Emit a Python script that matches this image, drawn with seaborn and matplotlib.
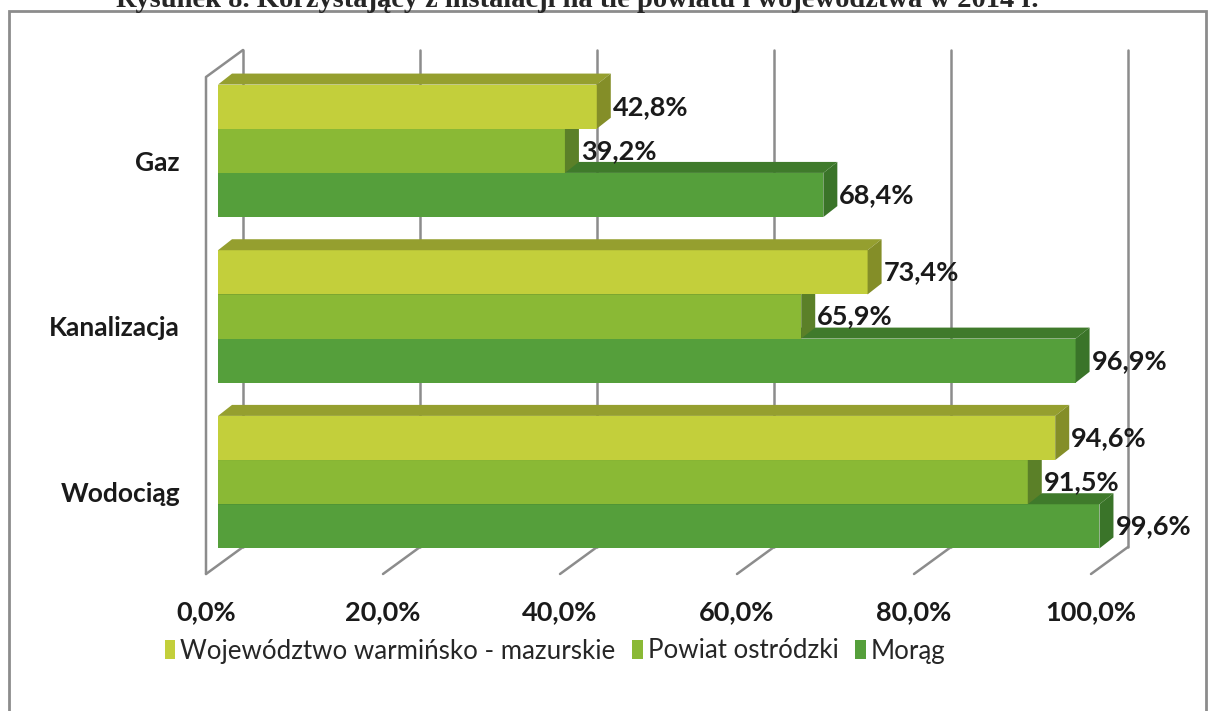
import numpy as np
import pandas as pd
import matplotlib
matplotlib.use('Agg')
import matplotlib.pyplot as plt
import matplotlib.transforms as mtransforms
from matplotlib.patches import Polygon, Rectangle
from matplotlib.lines import Line2D
import seaborn as sns

# dane z wykresu
kategorie = ['Gaz', 'Kanalizacja', 'Wodociąg']
serie = ['Województwo warmińsko - mazurskie', 'Powiat ostródzki', 'Morąg']
wojewodztwo = [42.8, 73.4, 94.6]
powiat = [39.2, 65.9, 91.5]
morag = [68.4, 96.9, 99.6]
osie_x = [0, 20, 40, 60, 80, 100]
etykiety_x = ['0,0%', '20,0%', '40,0%', '60,0%', '80,0%', '100,0%']
tytul = 'Rysunek 8. Korzystający z instalacji na tle powiatu i województwa w 2014 r.'

kolory_przod = ['#C3CF3B', '#8AB935', '#559F3B']
kolory_gora = ['#959F2F', '#6A8F29', '#3F7A2B']
kolory_bok = ['#848E28', '#5B8028', '#3A7429']

df = pd.DataFrame({'kategoria': kategorie * 3,
                   'seria': np.repeat(serie, 3),
                   'wartosc': wojewodztwo + powiat + morag})

sns.set_style('white')
plt.rcParams['font.family'] = ['Lato', 'DejaVu Sans']

W, H = 1213, 711
fig = plt.figure(figsize=(W / 100, H / 100), dpi=100)
ax = fig.add_axes([218 / W, 1 - 565 / H, 885 / W, 497 / H])
sns.barplot(data=df, y='kategoria', x='wartosc', hue='seria', order=kategorie,
            hue_order=serie, palette=kolory_przod, saturation=1, width=0.8,
            orient='h', legend=False, ax=ax)
ax.set_xlim(0, 100)
ax.set_ylim(2.5, -0.5)
ax.set_xticks([])
ax.set_yticks([])
ax.set_xlabel('')
ax.set_ylabel('')
sns.despine(ax=ax, left=True, bottom=True)
ax.patch.set_alpha(0)

ident = mtransforms.IdentityTransform()


def px(x, y, dx=0, dy=0):
    p = ax.transData.transform((x, y))
    return (p[0] + dx, p[1] + dy)


# sciany 3D
szary = '#8C8C8C'
for v in osie_x:
    a, b = px(v, 2.5, 25, 18), px(v, -0.5, 25, 18)
    ax.add_line(Line2D([a[0], b[0]], [a[1], b[1]], color=szary, lw=1.8, transform=ident, zorder=0.5, clip_on=False))
    c = px(v, 2.5, -12, -9)
    ax.add_line(Line2D([c[0], a[0]], [c[1], a[1]], color=szary, lw=1.8, transform=ident, zorder=0.5, clip_on=False))
p1, p2, p3 = px(0, 2.5, -12, -9), px(0, -0.5, -12, -9), px(0, -0.5, 25, 18)
ax.add_line(Line2D([p1[0], p2[0], p3[0]], [p1[1], p2[1], p3[1]], color=szary, lw=1.8,
                   transform=ident, zorder=0.5, clip_on=False))

# slupki 3D
d = (14, 11)
for i, cont in enumerate(ax.containers):
    z = 10 - 3 * i
    for bar in cont:
        x0, y0, w, h = bar.get_x(), bar.get_y(), bar.get_width(), bar.get_height()
        bar.set_zorder(z)
        bar.set_linewidth(0)
        tl, tr, br = px(x0, y0), px(x0 + w, y0), px(x0 + w, y0 + h)
        gora = [tl, tr, (tr[0] + d[0], tr[1] + d[1]), (tl[0] + d[0], tl[1] + d[1])]
        bok = [tr, br, (br[0] + d[0], br[1] + d[1]), (tr[0] + d[0], tr[1] + d[1])]
        ax.add_patch(Polygon(gora, closed=True, fc=kolory_gora[i], ec='none', transform=ident, zorder=z, clip_on=False))
        ax.add_patch(Polygon(bok, closed=True, fc=kolory_bok[i], ec='none', transform=ident, zorder=z, clip_on=False))
        ax.annotate(f'{w:.1f}'.replace('.', ',') + '%', xy=(x0 + w, y0 + h / 2), xytext=(16, 0),
                    textcoords='offset pixels', ha='left', va='center', fontsize=19.5,
                    fontweight='bold', color='#1a1a1a', zorder=20, annotation_clip=False)

# etykiety osi
off_x = mtransforms.ScaledTranslation(-12 / 100, -47 / 100, fig.dpi_scale_trans)
for v, t in zip(osie_x, etykiety_x):
    ax.text(v, 0, t, transform=ax.get_xaxis_transform() + off_x, ha='center', va='center',
            fontsize=19.5, fontweight='bold', color='#1a1a1a')
off_y = mtransforms.ScaledTranslation(-38 / 100, -12 / 100, fig.dpi_scale_trans)
for k, t in enumerate(kategorie):
    ax.text(0, k, t, transform=ax.get_yaxis_transform() + off_y, ha='right', va='center',
            fontsize=19, fontweight='bold', color='#1a1a1a')

# legenda
uchwyty = [Rectangle((0, 0), 1, 1, fc=c, ec='none') for c in kolory_przod]
fig.legend(uchwyty, serie, loc='center', bbox_to_anchor=(555 / W, 1 - 651 / H), ncol=3,
           frameon=False, fontsize=18.6, handlelength=0.4, handleheight=0.7,
           handletextpad=0.2, columnspacing=0.65)

# tytul i ramka
fig.text(577 / W, 1 - 7 / H, tytul, ha='center', va='baseline', fontsize=20.5,
         fontweight='bold', family='Liberation Serif')
fig.patches.append(Rectangle((9 / W, -0.1), 1197 / W, 1.1 - 11 / H, transform=fig.transFigure,
                             fill=False, ec='#8C8C8C', lw=2))

fig.savefig('out.png', dpi=100)
